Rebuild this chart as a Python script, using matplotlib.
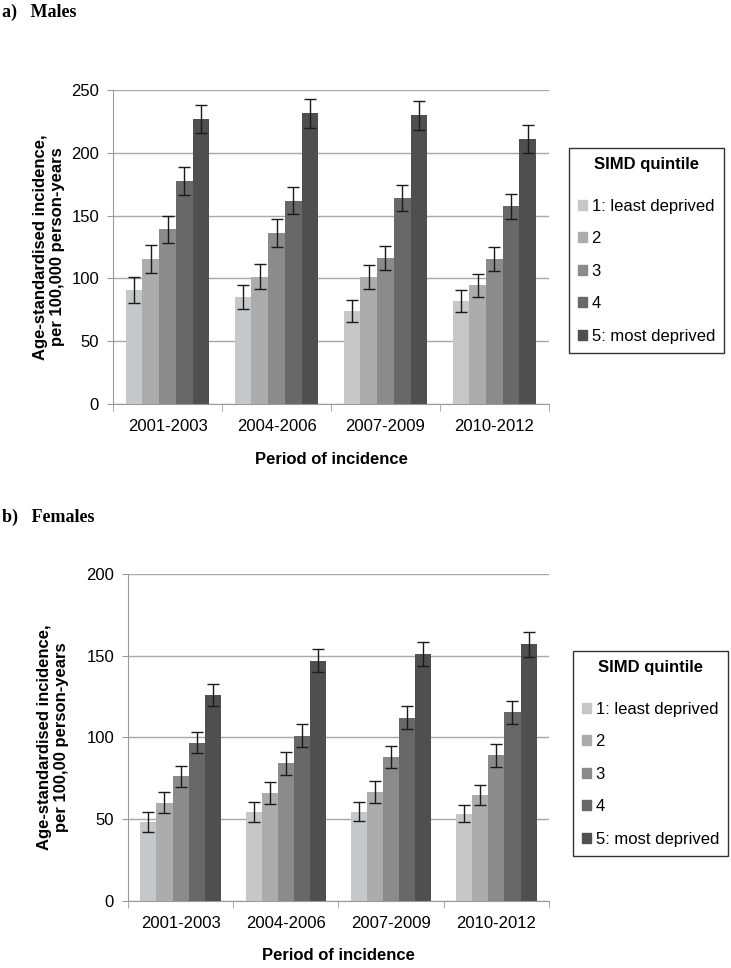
import numpy as np
import matplotlib.pyplot as plt
from matplotlib.patches import Patch

plt.rcParams['font.family'] = ['Liberation Sans', 'DejaVu Sans']

periods = ['2001-2003', '2004-2006', '2007-2009', '2010-2012']
quintiles = ['1: least deprived', '2', '3', '4', '5: most deprived']
colors = ['#c6c7c9', '#acacad', '#8b8b8b', '#686868', '#4f4f4f']

# rows = quintile, columns = period
males = [[91, 85, 74, 82],
         [115.5, 101.5, 101, 94.5],
         [139, 136, 116, 115.5],
         [177.5, 162, 164, 157.5],
         [227, 231.5, 230, 211]]
males_err = [[10.5, 9.5, 8.6, 8.6],
             [11.5, 10, 9.7, 9.2],
             [11, 11, 9.5, 9.3],
             [11, 10.5, 10.4, 9.8],
             [11, 11.5, 11.5, 10.9]]

females = [[48, 54.3, 54.5, 53.3],
           [60, 66, 66.5, 64.7],
           [76, 84, 88, 89],
           [96.7, 101, 112, 115.3],
           [126, 147, 151, 157]]
females_err = [[6.1, 6.1, 6.0, 5.5],
               [6.5, 6.8, 6.8, 6.3],
               [6.7, 7.1, 6.9, 7.0],
               [6.6, 6.9, 7.0, 6.9],
               [6.6, 7.3, 7.4, 7.7]]


def draw_panel(ax, vals, errs, ymax):
    x = np.arange(len(periods))
    w = 0.153
    for i in range(len(quintiles)):
        ax.bar(x + (i - 2) * w, vals[i], w, color=colors[i], zorder=3,
               yerr=errs[i], capsize=4.5,
               error_kw=dict(ecolor='#1a1a1a', elinewidth=1, capthick=1, zorder=4))
    ax.set_xlim(-0.5, len(periods) - 0.5)
    ax.set_ylim(0, ymax)
    ax.set_yticks(np.arange(0, ymax + 1, 50))
    ax.yaxis.grid(True, color='#a8a8a8', lw=1, zorder=0)
    for s in ['top', 'right']:
        ax.spines[s].set_visible(False)
    for s in ['left', 'bottom']:
        ax.spines[s].set_color('#9a9a9a')
    ax.set_xticks(x)
    ax.set_xticklabels(periods)
    ax.set_xticks(np.arange(-0.5, len(periods)), minor=True)
    ax.tick_params(axis='x', which='major', length=0, pad=11, labelsize=12)
    ax.tick_params(axis='x', which='minor', length=5, color='#9a9a9a')
    ax.tick_params(axis='y', length=4, color='#9a9a9a', labelsize=12, pad=6)


fig = plt.figure(figsize=(7.31, 9.68), dpi=100)

ax1 = fig.add_axes([0.1546, 0.5826, 0.751 - 0.1546, 0.907 - 0.5826])
draw_panel(ax1, males, males_err, 250)
ax2 = fig.add_axes([0.175, 0.0697, 0.751 - 0.175, 0.407 - 0.0697])
draw_panel(ax2, females, females_err, 200)

handles = [Patch(color=c) for c in colors]
for xl, ytop in [(569 / 731, 1 - 148 / 968), (573 / 731, 1 - 651 / 968)]:
    leg = fig.legend(handles, quintiles, loc='upper left', bbox_to_anchor=(xl, ytop),
                     borderaxespad=0, title='SIMD quintile', fontsize=12, frameon=True,
                     fancybox=False, edgecolor='black', handlelength=0.55,
                     handleheight=0.55, handletextpad=0.25, labelspacing=1.05,
                     borderpad=0.55,
                     title_fontproperties={'weight': 'bold', 'size': 12})
    leg.get_frame().set_linewidth(1)
    leg._legend_box.sep = 19

fig.text(0.003, 0.987, 'a)   Males', family='Liberation Serif', weight='bold',
         fontsize=13, va='center')
fig.text(0.003, 0.466, 'b)   Females', family='Liberation Serif', weight='bold',
         fontsize=13, va='center')

fig.text(49 / 731, 1 - 247 / 968, 'Age-standardised incidence,\nper 100,000 person-years',
         rotation=90, ha='center', va='center', weight='bold', fontsize=12,
         multialignment='center')
fig.text(53 / 731, 1 - 737 / 968, 'Age-standardised incidence,\nper 100,00 person-years',
         rotation=90, ha='center', va='center', weight='bold', fontsize=12,
         multialignment='center')

fig.text(331 / 731, 1 - 459 / 968, 'Period of incidence', ha='center', va='center',
         weight='bold', fontsize=12)
fig.text(338 / 731, 1 - 955 / 968, 'Period of incidence', ha='center', va='center',
         weight='bold', fontsize=12)

fig.savefig('out.png', dpi=100)
